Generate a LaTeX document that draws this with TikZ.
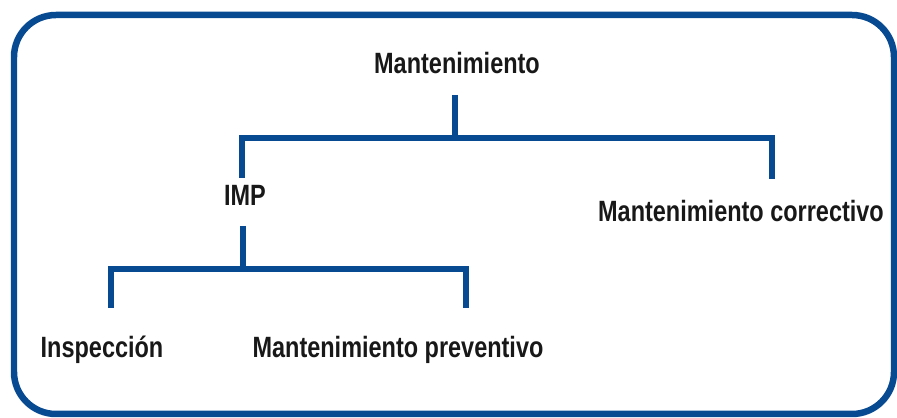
\documentclass[tikz,border=0pt]{standalone}
\usepackage{fontspec}
\setmainfont{Liberation Sans}[FakeStretch=0.8]
\usetikzlibrary{calc}

\definecolor{orgblue}{RGB}{8,74,146}
\definecolor{orgtext}{RGB}{24,24,24}

\tikzset{
  frame/.style={draw=orgblue, line width=0.13cm, rounded corners=0.84cm},
  link/.style={draw=orgblue, line width=0.12cm, line join=miter},
  label/.style={anchor=base, inner sep=0pt, text=orgtext,
                font=\fontsize{16.7}{20}\selectfont\bfseries}
}

\begin{document}
\begin{tikzpicture}[x=0.02cm, y=-0.02cm]
    \useasboundingbox (0, 0) rectangle (897, 418);
    \draw[frame] (14, 15) rectangle (894, 414);

    \node[label] (root) at (457, 74)  {Mantenimiento};
    \node[label] (imp)  at (245, 206) {IMP};
    \node[label] (corr) at (741, 222) {Mantenimiento correctivo};
    \node[label] (insp) at (102, 358) {Inspección};
    \node[label] (prev) at (398, 358) {Mantenimiento preventivo};

    \coordinate (bus1) at (455, 138);
    \coordinate (bus2) at (243, 269);

    \draw[link] (root.base) ++(-2, 21) -- (bus1);
    \draw[link] (imp.base) ++(-3, -28) |- (bus1) -| ($(corr.base)+(31, -43)$);
    \draw[link] (imp.base) ++(-2, 20) -- (bus2);
    \draw[link] (insp.base) ++(9, -50) |- (bus2) -| ($(prev.base)+(68, -50)$);
\end{tikzpicture}
\end{document}
